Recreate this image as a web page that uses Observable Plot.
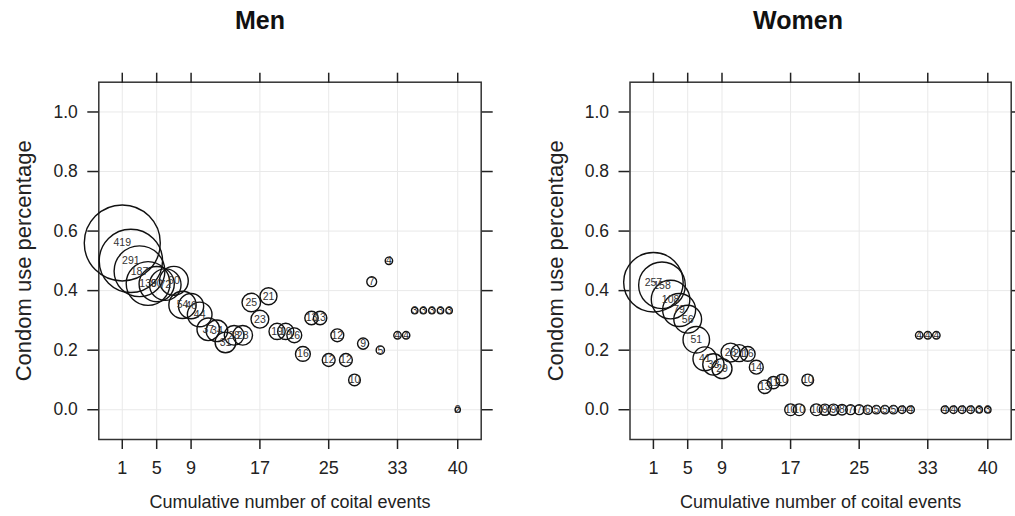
<!DOCTYPE html>
<html>
<head>
<meta charset="utf-8">
<script src="https://cdn.jsdelivr.net/npm/d3@7"></script>
<script src="https://cdn.jsdelivr.net/npm/@observablehq/plot@0.6"></script>
<style>
  html, body { margin: 0; padding: 0; background: #fff; }
  #root { position: relative; width: 1015px; height: 516px; overflow: hidden; font-family: "Liberation Sans", Arial, sans-serif; }
  .title { position: absolute; top: 4.6px; width: 300px; text-align: center; font-weight: bold; font-size: 25px; line-height: 30px; color: #111; }
  .panel { position: absolute; top: 40px; }
</style>
</head>
<body>
<div id="root">
  <div class="title" style="left:110px">Men</div>
  <div class="title" style="left:648px">Women</div>
  <div class="panel" id="men" style="left:0px"></div>
  <div class="panel" id="women" style="left:507px"></div>
</div>
<script>
// Cumulative number of coital events (x)
const events = [1,2,3,4,5,6,7,8,9,10,11,12,13,14,15,16,17,18,19,20,21,22,23,24,25,26,27,28,29,30,31,32,33,34,35,36,37,38,39,40];

// Men: condom use percentage and number of respondents
const menPct = [0.56,0.50,0.465,0.424,0.422,0.42,0.433,0.352,0.348,0.32,0.27,0.265,0.226,0.25,0.25,0.36,0.304,0.381,0.263,0.263,0.25,0.1875,0.308,0.308,0.167,0.25,0.167,0.10,0.222,0.43,0.20,0.50,0.25,0.25,0.333,0.333,0.333,0.333,0.333,0.0];
const menN   = [419,291,187,139,90,72,60,54,46,44,37,34,31,28,28,25,23,21,19,19,16,16,13,13,12,12,12,10,9,7,5,4,4,4,3,3,3,3,3,2];

// Women: condom use percentage and number of respondents
const womenPct = [0.428,0.418,0.37,0.335,0.304,0.235,0.171,0.152,0.138,0.192,0.19,0.1875,0.143,0.077,0.091,0.10,0.0,0.0,0.10,0.0,0.0,0.0,0.0,0.0,0.0,0.0,0.0,0.0,0.0,0.0,0.0,0.25,0.25,0.25,0.0,0.0,0.0,0.0,0.0,0.0];
const womenN   = [257,158,108,79,56,51,41,33,29,26,21,16,14,13,11,10,10,10,10,10,9,9,8,7,7,6,5,5,5,4,4,4,4,4,4,4,4,4,3,3];

const xTicks = [1,5,9,17,25,33,40];
const yTicks = [0.0,0.2,0.4,0.6,0.8,1.0];
const xTitle = "Cumulative number of coital events";
const yTitle = "Condom use percentage";

function panel(pct, n, width, mLeft, mRight) {
  const data = events.map((e, i) => ({x: e, y: pct[i], n: n[i]}));
  return Plot.plot({
    width, height: 476,
    marginLeft: mLeft, marginRight: mRight, marginTop: 41.7, marginBottom: 77,
    style: {fontFamily: '"Liberation Sans", Arial, sans-serif', color: "#222", background: "white", overflow: "visible"},
    x: {domain: [-1.73, 42.73]},
    y: {domain: [-0.1, 1.1]},
    r: {type: "sqrt", domain: [0, 419], range: [0, 38]},
    marks: [
      Plot.gridX(xTicks, {stroke: "#e9e9e9", strokeOpacity: 1}),
      Plot.gridY(yTicks, {stroke: "#e9e9e9", strokeOpacity: 1}),
      Plot.frame({stroke: "#333", strokeWidth: 1.5}),
      Plot.axisX({ticks: xTicks, anchor: "bottom", tickSize: 10, tickPadding: 12, fontSize: 18, label: null, strokeWidth: 1.5, tickFormat: d => String(d)}),
      Plot.axisX({ticks: xTicks, anchor: "top", tickSize: 10, label: null, strokeWidth: 1.5, tickFormat: () => ""}),
      Plot.axisY({ticks: yTicks, anchor: "left", tickSize: 11, tickPadding: 10, fontSize: 17.5, label: null, strokeWidth: 1.5, tickFormat: d3.format(".1f")}),
      Plot.axisY({ticks: yTicks, anchor: "right", tickSize: 11, label: null, strokeWidth: 1.5, tickFormat: () => ""}),
      Plot.dot(data, {x: "x", y: "y", r: "n", stroke: "#111", strokeWidth: 1.4, fill: "none"}),
      Plot.text(data, {x: "x", y: "y", text: d => String(d.n), fontSize: 10.5, fill: "#333"}),
      Plot.text([yTitle], {frameAnchor: "left", rotate: -90, dx: -74.5, textAnchor: "middle", lineAnchor: "middle", fontSize: 22, fill: "#222"}),
      Plot.text([xTitle], {frameAnchor: "bottom", dy: 62.7, textAnchor: "middle", lineAnchor: "middle", fontSize: 18, fill: "#222"})
    ]
  });
}

document.getElementById("men").appendChild(panel(menPct, menN, 507, 98.3, 26.3));
document.getElementById("women").appendChild(panel(womenPct, womenN, 508, 122.5, 4.3));
</script>
</body>
</html>
